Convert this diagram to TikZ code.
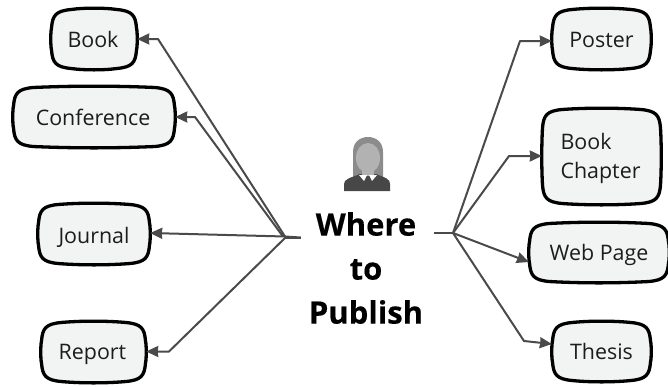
\documentclass[tikz,border=0pt]{standalone}
\usepackage{fontspec}
\setmainfont{Open Sans}
\newfontfamily\headfont[FakeBold=0.35]{Open Sans Bold}
\usetikzlibrary{arrows.meta}
\definecolor{boxfill}{HTML}{F2F4F4}
\definecolor{linkcol}{HTML}{4A4A4A}
\definecolor{inkcol}{HTML}{1C1C1C}
\tikzset{
  blob/.style={draw=black,line width=3.3pt,fill=boxfill,line join=round},
  label/.style={inner sep=0pt,font=\fontsize{21.4}{30}\selectfont,text=inkcol,align=left},
  link/.style={draw=linkcol,line width=2pt,line join=round,-{Stealth[length=12pt,width=11pt,inset=0.5pt]}},
  stub/.style={draw=linkcol,line width=2pt},
  headline/.style={inner sep=0pt,font=\fontsize{31}{44}\selectfont\headfont,text=black,align=center},
}
% x0 y0 x1 y1 name text dy
\newcommand{\blobnode}[7]{%
  \pgfmathsetmacro{\rr}{20}%
  \pgfmathsetmacro{\cx}{(#1+#3)/2}%
  \pgfmathsetmacro{\cy}{(#2+#4)/2+#7}%
  \pgfmathsetmacro{\my}{(#2+#4)/2}%
  \pgfmathsetmacro{\bw}{#3-#1}%
  \pgfmathsetmacro{\bh}{#4-#2}%
  \draw[blob] ({#1+\rr},{#2+1.5})
    .. controls ({\cx-\bw*0.12},{#2-0.3}) and ({\cx+\bw*0.12},{#2-0.3}) .. ({#3-\rr},{#2+1.5})
    .. controls ({#3-5},{#2+3}) and ({#3-1.5},{#2+7}) .. ({#3-0.5},{#2+\rr})
    .. controls ({#3+0.5},{\my-\bh*0.12}) and ({#3+0.5},{\my+\bh*0.12}) .. ({#3-0.5},{#4-\rr})
    .. controls ({#3-1.5},{#4-7}) and ({#3-5},{#4-3}) .. ({#3-\rr},{#4-1.5})
    .. controls ({\cx+\bw*0.12},{#4+0.3}) and ({\cx-\bw*0.12},{#4+0.3}) .. ({#1+\rr},{#4-1.5})
    .. controls ({#1+5},{#4-3}) and ({#1+1.5},{#4-7}) .. ({#1+0.5},{#4-\rr})
    .. controls ({#1-0.5},{\my+\bh*0.12}) and ({#1-0.5},{\my-\bh*0.12}) .. ({#1+0.5},{#2+\rr})
    .. controls ({#1+1.5},{#2+7}) and ({#1+5},{#2+3}) .. cycle;
  \node[label,minimum width=\bw pt,minimum height=\bh pt] (#5) at (\cx,\cy) {#6};%
}
\begin{document}
\begin{tikzpicture}[x=1pt,y=-1pt]
\useasboundingbox (0,0) rectangle (668,386);
\blobnode{51}{8}{137}{70}{book}{\hspace*{-2pt}Book}{0}
\blobnode{13}{86}{175}{148}{conf}{\hspace*{-2pt}Conference}{0}
\blobnode{38}{203}{150}{265}{journal}{Journal}{3}
\blobnode{41}{321}{146}{383}{report}{\hspace*{-2pt}Report}{2}
\blobnode{552}{8}{651}{70}{poster}{Poster}{1}
\blobnode{542}{108}{661}{205}{chapter}{\hspace*{-2pt}\begin{tabular}{@{}l@{}}Book\\[-1pt]Chapter\end{tabular}}{1.5}
\blobnode{529}{222}{669}{283}{web}{Web Page}{2}
\blobnode{552}{321}{651}{382}{thesis}{Thesis}{0}
\node[headline] (title) at (366,268) {Where\\to\\Publish};
% person icon
\fill[black!45] (353,178) -- (353,152) .. controls (353,142) and (360,137) .. (368,137)
  .. controls (376,137) and (383,142) .. (383,152) -- (383,178) -- cycle;
\fill[black!72] (344,191) -- (344,184) .. controls (344,179) and (350,178) .. (360,174)
  -- (376,174) .. controls (386,178) and (390,179) .. (390,184) -- (390,191) -- cycle;
\fill[black!30] (368,158) ellipse [x radius=12,y radius=15];
\fill[black!30] (362,168) rectangle (374,176);
\fill[white] (359,175) -- (367,175) -- (364,181) -- cycle;
\fill[white] (369,175) -- (377,175) -- (372,181) -- cycle;
% hubs
\coordinate (hl) at (285,236.5);
\coordinate (hr) at (453,233);
\draw[stub] (hl) -- ([xshift=-8pt,yshift=-1pt]title.west|-hl);
\draw[stub] ([xshift=-8pt]title.west|-hl) ++(0,1.5) -- (284,238);
\draw[stub] (434,233) -- (hr);
% left links
\draw[link] (hl) -- (158,39) -- (book.east);
\draw[link] (283,236.5) -- (195,117) -- (conf.east);
\draw[link] (hl) -- ([yshift=4pt]journal.east);
\draw[link] (285,238) -- (169,351.5) -- ([yshift=2.5pt]report.east);
% right links
\draw[link] (hr) -- (520,41) -- ([yshift=-1pt]poster.west);
\draw[link] (hr) -- (509,156) -- ([yshift=2pt]chapter.west);
\draw[link] (hr) -- ([yshift=-7.5pt]web.west);
\draw[link] (hr) -- (524,341) -- ([yshift=7.5pt]thesis.west);
\end{tikzpicture}
\end{document}
